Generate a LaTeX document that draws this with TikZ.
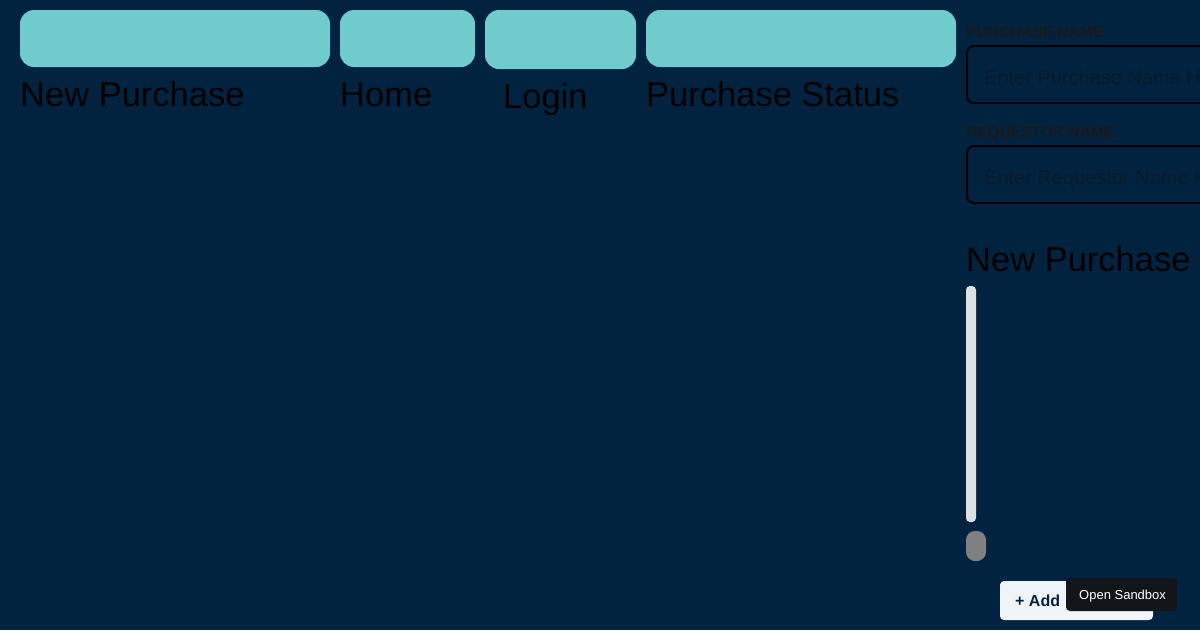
\documentclass[tikz,border=0pt]{standalone}
\usepackage{fontspec}
\setmainfont{Liberation Sans}
\definecolor{bg}{HTML}{012340}
\definecolor{teal}{HTML}{70CCCC}
\definecolor{ph}{HTML}{08192A}
\definecolor{btn}{HTML}{F0F4F8}
\definecolor{tipc}{HTML}{111418}
\begin{document}
\begin{tikzpicture}[x=1pt,y=-1pt,
  tab/.style={fill=teal,rounded corners=14pt},
  big/.style={anchor=base west,inner sep=0pt,font=\fontsize{34.5}{38}\selectfont,text=black},
  lbl/.style={anchor=base west,inner sep=0pt,font=\fontsize{15.5}{18}\selectfont\bfseries,text=black!90},
  inp/.style={draw=black,line width=2pt,rounded corners=7pt},
  phs/.style={anchor=base west,inner sep=0pt,font=\fontsize{20}{22}\selectfont,text=ph}]
\useasboundingbox (0,0) rectangle (1200,630);
\clip (0,0) rectangle (1200,630);
\fill[bg] (0,0) rectangle (1200,630);
\fill[tab] (20,10) rectangle (330,67);
\fill[tab] (340,10) rectangle (475,67);
\fill[tab] (485,10) rectangle (636,69);
\fill[tab] (646,10) rectangle (956,67);
\node[big] (t1) at (20,106) {New Purchase};
\node[big] (t2) at (340,106) {Home};
\node[big] (t3) at (503,108) {Login};
\node[big] (t4) at (646,106) {Purchase Status};
\node[lbl] (l1) at (966,37) {PURCHASE NAME};
\draw[inp] (967,46) rectangle (1230,103);
\node[phs] (p1) at (984,84) {Enter Purchase Name Here};
\node[lbl] (l2) at (966,137) {REQUESTOR NAME};
\draw[inp] (967,146) rectangle (1230,203);
\node[phs] (p2) at (984,184) {Enter Requestor Name Here};
\node[big] (np) at (966,271) {New Purchase};
\fill[black!12,rounded corners=4pt] (966,286) rectangle (976,522);
\fill[black!50,rounded corners=9pt] (966,531) rectangle (986,561);
\fill[btn,rounded corners=4pt] (1000,581) rectangle (1153,620);
\node[anchor=base west,inner sep=0pt,font=\fontsize{16}{18}\selectfont\bfseries,text=bg] (add) at (1015,606) {+ Add};
\fill[tipc,rounded corners=4pt] (1066,578) rectangle (1177,611);
\node[anchor=base west,inner sep=0pt,font=\fontsize{13}{15}\selectfont,text=white] (tip) at (1079,599) {Open Sandbox};
\end{tikzpicture}
\end{document}
